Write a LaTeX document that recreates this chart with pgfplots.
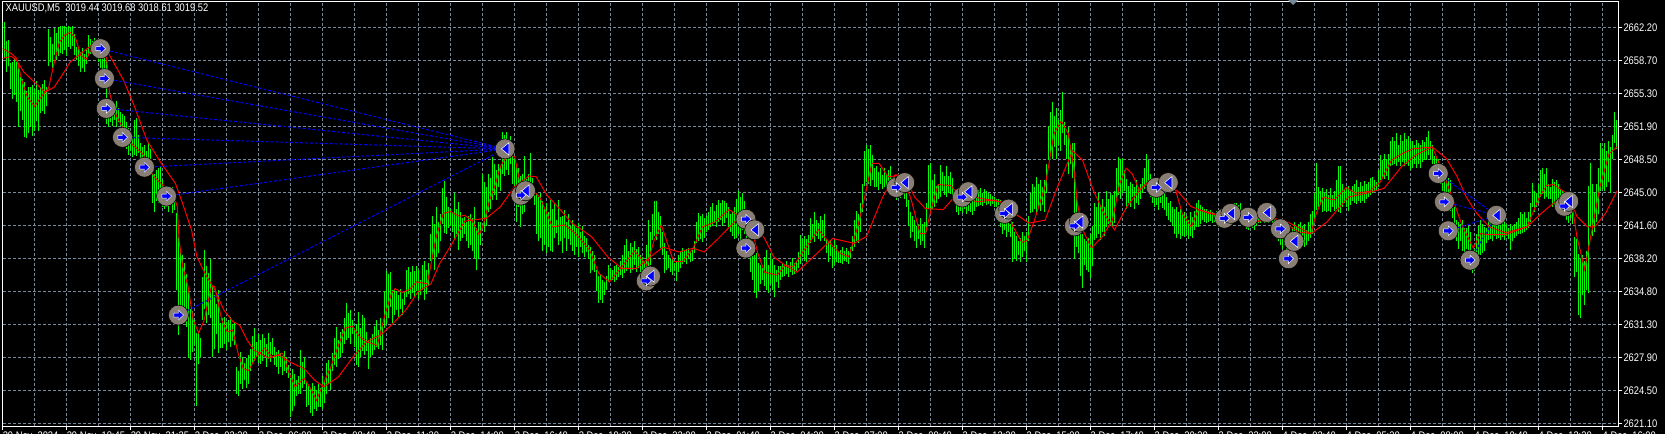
\documentclass[border=0pt]{standalone}
\usepackage{pgfplots}
\usepackage{pgfplotstable}
\usepackage{fontspec}
\setmainfont[FakeStretch=0.85]{Liberation Sans}
\pgfplotsset{compat=1.18}
\definecolor{gridc}{HTML}{778899}
\definecolor{stick}{RGB}{0,255,0}
\definecolor{halo}{RGB}{136,126,115}
\pgfdeclareplotmark{buyarrow}{%
  \pgfpathmoveto{\pgfqpoint{-3.4pt}{-1.5pt}}\pgfpathlineto{\pgfqpoint{0pt}{-1.5pt}}\pgfpathlineto{\pgfqpoint{0pt}{-3.6pt}}%
  \pgfpathlineto{\pgfqpoint{3.8pt}{0pt}}\pgfpathlineto{\pgfqpoint{0pt}{3.6pt}}\pgfpathlineto{\pgfqpoint{0pt}{1.5pt}}%
  \pgfpathlineto{\pgfqpoint{-3.4pt}{1.5pt}}\pgfpathclose\pgfusepathqfillstroke}
\pgfdeclareplotmark{closetri}{%
  \pgfpathmoveto{\pgfqpoint{2.8pt}{-4.6pt}}\pgfpathlineto{\pgfqpoint{-2.8pt}{0pt}}\pgfpathlineto{\pgfqpoint{2.8pt}{4.6pt}}%
  \pgfpathclose\pgfusepathqfillstroke}
\pgfplotstableread{
n l h
0 2659.6 2662.8
1 2659.0 2662.8
2 2657.6 2660.8
3 2658.2 2660.9
4 2655.8 2658.5
5 2654.8 2658.6
6 2655.2 2659.0
7 2654.5 2658.6
8 2651.9 2658.0
9 2653.5 2657.1
10 2652.6 2656.9
11 2650.8 2656.5
12 2650.7 2655.6
13 2651.3 2656.0
14 2651.9 2656.0
15 2650.9 2656.2
16 2651.5 2655.8
17 2652.5 2656.6
18 2651.5 2655.7
19 2653.3 2656.0
20 2653.5 2656.3
21 2653.2 2656.7
22 2654.0 2656.0
23 2658.2 2662.0
24 2658.6 2661.2
25 2658.0 2660.5
26 2659.3 2662.1
27 2658.8 2661.6
28 2659.2 2662.2
29 2659.6 2662.4
30 2659.4 2662.4
31 2659.9 2662.4
32 2659.2 2662.2
33 2660.2 2662.4
34 2660.0 2662.3
35 2660.3 2662.4
36 2659.3 2661.5
37 2658.8 2660.2
38 2658.2 2660.0
39 2657.6 2659.7
40 2658.0 2660.1
41 2657.6 2659.5
42 2658.4 2660.0
43 2659.2 2661.4
44 2659.5 2661.0
45 2659.9 2660.8
46 2659.4 2661.1
47 2659.0 2660.7
48 2658.6 2660.2
49 2658.0 2660.4
50 2657.8 2660.0
51 2657.6 2659.4
52 2652.2 2658.8
53 2651.9 2654.7
54 2652.4 2654.4
55 2652.0 2654.6
56 2652.6 2654.2
57 2651.9 2654.6
58 2652.4 2653.8
59 2652.0 2653.4
60 2651.0 2653.2
61 2650.2 2653.0
62 2649.6 2652.4
63 2649.0 2651.8
64 2649.4 2651.4
65 2648.8 2650.9
66 2649.0 2652.6
67 2648.9 2652.8
68 2649.2 2651.0
69 2647.8 2650.2
70 2647.4 2649.8
71 2648.1 2650.0
72 2647.4 2649.4
73 2647.6 2650.2
74 2647.8 2649.6
75 2644.0 2647.8
76 2643.1 2647.0
77 2644.2 2647.4
78 2644.0 2647.6
79 2644.5 2647.8
80 2643.6 2646.4
81 2643.4 2645.8
82 2643.6 2645.6
83 2643.1 2645.8
84 2643.8 2645.4
85 2642.9 2645.6
86 2643.3 2645.0
87 2635.0 2642.9
88 2630.3 2640.5
89 2632.0 2639.0
90 2631.5 2638.6
91 2633.0 2637.8
92 2631.1 2636.6
93 2627.9 2634.9
94 2627.7 2633.0
95 2628.5 2632.8
96 2629.2 2631.8
97 2622.9 2630.5
98 2627.3 2630.5
99 2628.0 2630.0
100 2631.8 2636.3
101 2633.0 2639.1
102 2631.5 2637.4
103 2632.4 2636.7
104 2632.0 2638.2
105 2628.0 2635.3
106 2628.8 2634.4
107 2630.4 2633.5
108 2628.4 2635.0
109 2628.9 2631.5
110 2628.9 2632.0
111 2629.3 2632.2
112 2628.7 2631.6
113 2629.6 2631.8
114 2629.0 2632.2
115 2629.7 2631.4
116 2629.2 2631.5
117 2624.2 2627.0
118 2624.0 2626.6
119 2625.2 2628.5
120 2624.7 2628.0
121 2625.6 2627.4
122 2624.8 2627.9
123 2625.2 2628.2
124 2626.5 2628.8
125 2627.3 2630.2
126 2627.6 2631.0
127 2628.0 2629.6
128 2627.4 2630.4
129 2627.3 2629.8
130 2627.6 2630.4
131 2628.2 2630.0
132 2627.0 2629.4
133 2627.8 2630.5
134 2627.5 2629.6
135 2628.2 2630.0
136 2627.2 2629.0
137 2627.0 2628.5
138 2626.2 2628.7
139 2627.0 2628.4
140 2626.1 2628.1
141 2626.6 2628.6
142 2626.3 2628.0
143 2625.8 2627.2
144 2621.8 2625.8
145 2622.4 2626.8
146 2622.9 2626.2
147 2624.0 2625.6
148 2624.2 2626.0
149 2624.2 2628.7
150 2624.8 2627.5
151 2625.2 2628.0
152 2622.8 2625.3
153 2623.0 2625.0
154 2622.2 2624.8
155 2621.9 2625.3
156 2622.6 2625.0
157 2622.4 2624.6
158 2622.8 2625.2
159 2622.8 2624.8
160 2622.6 2626.0
161 2623.2 2625.4
162 2624.2 2627.4
163 2625.2 2627.7
164 2624.6 2627.0
165 2626.6 2628.4
166 2627.2 2630.0
167 2627.0 2631.1
168 2627.8 2629.8
169 2628.0 2630.6
170 2628.4 2630.9
171 2629.4 2632.0
172 2629.8 2633.6
173 2630.0 2632.6
174 2629.4 2632.9
175 2630.4 2631.8
176 2629.0 2631.0
177 2627.2 2631.4
178 2627.0 2632.7
179 2628.0 2631.0
180 2628.6 2632.4
181 2628.2 2632.0
182 2628.6 2630.6
183 2626.8 2629.8
184 2628.0 2630.0
185 2628.2 2630.4
186 2628.7 2631.2
187 2629.0 2631.8
188 2628.8 2630.8
189 2629.2 2632.0
190 2628.7 2631.5
191 2631.0 2634.8
192 2631.4 2636.9
193 2632.0 2636.6
194 2633.2 2636.8
195 2631.5 2635.0
196 2632.4 2635.1
197 2632.9 2634.8
198 2632.2 2634.4
199 2633.0 2635.1
200 2632.4 2634.0
201 2633.4 2634.8
202 2634.2 2637.0
203 2634.5 2637.3
204 2634.0 2636.8
205 2634.6 2637.4
206 2634.2 2636.9
207 2634.8 2637.4
208 2634.0 2637.0
209 2634.4 2636.0
210 2635.0 2637.6
211 2633.9 2638.0
212 2634.5 2637.0
213 2635.4 2637.8
214 2638.0 2640.8
215 2638.2 2642.6
216 2637.0 2641.8
217 2638.4 2643.6
218 2638.8 2642.0
219 2640.0 2642.8
220 2641.8 2645.5
221 2640.9 2646.3
222 2640.8 2644.6
223 2641.4 2643.6
224 2641.6 2643.4
225 2641.0 2643.0
226 2640.1 2645.0
227 2640.8 2643.4
228 2639.1 2644.1
229 2640.0 2643.0
230 2640.4 2642.4
231 2640.8 2642.5
232 2640.0 2642.0
233 2639.3 2642.6
234 2639.6 2642.8
235 2639.0 2642.4
236 2638.3 2643.6
237 2637.0 2641.4
238 2638.2 2642.0
239 2639.6 2642.0
240 2642.2 2647.0
241 2641.0 2646.2
242 2641.6 2645.6
243 2643.0 2647.0
244 2643.4 2646.6
245 2644.3 2648.8
246 2644.8 2648.0
247 2644.3 2647.4
248 2645.6 2648.0
249 2645.2 2647.8
250 2647.0 2651.4
251 2646.8 2651.0
252 2647.4 2651.4
253 2646.9 2650.6
254 2648.0 2650.9
255 2646.0 2649.0
256 2644.0 2648.6
257 2642.0 2648.0
258 2643.6 2647.6
259 2641.5 2646.8
260 2642.8 2647.0
261 2643.0 2648.9
262 2644.6 2646.5
263 2644.2 2647.0
264 2644.3 2649.2
265 2644.6 2646.6
266 2643.8 2645.6
267 2640.8 2645.0
268 2640.0 2644.6
269 2640.4 2645.0
270 2639.0 2644.2
271 2639.6 2643.4
272 2638.8 2644.0
273 2639.4 2643.0
274 2639.0 2644.3
275 2638.9 2643.4
276 2640.4 2644.0
277 2640.9 2642.2
278 2639.6 2644.3
279 2640.0 2642.5
280 2638.8 2642.6
281 2640.4 2643.3
282 2639.0 2642.0
283 2640.2 2642.8
284 2639.6 2641.6
285 2639.0 2642.2
286 2638.6 2641.6
287 2639.4 2641.4
288 2638.4 2641.9
289 2639.4 2641.0
290 2638.8 2641.6
291 2638.4 2640.6
292 2638.9 2640.4
293 2638.2 2639.6
294 2636.7 2639.4
295 2637.0 2639.0
296 2636.8 2638.6
297 2634.8 2637.0
298 2633.6 2636.4
299 2633.9 2636.6
300 2633.6 2636.0
301 2634.4 2635.8
302 2635.0 2636.4
303 2635.8 2637.5
304 2635.9 2637.2
305 2636.0 2637.0
306 2635.8 2637.4
307 2636.0 2637.5
308 2636.3 2637.3
309 2636.5 2638.0
310 2636.2 2638.6
311 2636.7 2639.6
312 2636.9 2640.3
313 2637.2 2639.0
314 2636.7 2639.8
315 2637.0 2639.4
316 2637.6 2640.0
317 2636.8 2639.2
318 2637.2 2639.4
319 2636.8 2638.6
320 2636.4 2638.4
321 2635.6 2638.0
322 2635.9 2639.6
323 2636.0 2642.2
324 2637.5 2641.0
325 2640.1 2642.8
326 2640.6 2644.2
327 2640.1 2644.2
328 2640.8 2643.0
329 2639.3 2642.6
330 2638.6 2641.0
331 2636.7 2639.8
332 2637.0 2639.0
333 2637.2 2638.6
334 2636.8 2638.2
335 2636.5 2638.2
336 2636.9 2637.8
337 2635.9 2638.0
338 2636.8 2638.6
339 2637.2 2639.0
340 2637.7 2639.3
341 2637.9 2639.0
342 2637.7 2639.2
343 2638.2 2639.3
344 2637.9 2639.0
345 2638.0 2639.1
346 2638.8 2640.0
347 2639.8 2642.0
348 2640.0 2642.9
349 2640.2 2642.6
350 2639.9 2642.8
351 2640.4 2642.4
352 2641.0 2642.6
353 2641.2 2643.0
354 2641.5 2643.6
355 2641.6 2644.0
356 2641.9 2643.2
357 2641.5 2643.8
358 2642.0 2644.3
359 2642.2 2644.0
360 2641.6 2644.3
361 2641.9 2644.2
362 2642.4 2644.0
363 2641.5 2643.6
364 2641.0 2642.8
365 2640.6 2643.0
366 2640.2 2643.6
367 2640.4 2644.4
368 2640.8 2645.2
369 2640.1 2644.6
370 2641.2 2645.0
371 2640.8 2644.2
372 2640.0 2642.6
373 2638.6 2641.0
374 2636.8 2640.8
375 2636.0 2638.8
376 2634.6 2638.6
377 2634.1 2638.8
378 2634.8 2637.8
379 2635.6 2637.6
380 2636.0 2637.2
381 2635.4 2638.4
382 2635.0 2639.1
383 2634.6 2637.6
384 2635.6 2638.8
385 2635.0 2638.2
386 2634.2 2637.6
387 2635.8 2637.0
388 2635.2 2637.4
389 2636.0 2637.4
390 2636.3 2637.7
391 2636.4 2637.5
392 2636.6 2638.0
393 2636.3 2637.6
394 2636.8 2637.9
395 2636.5 2638.3
396 2636.6 2637.8
397 2636.9 2638.0
398 2637.2 2638.9
399 2637.7 2640.7
400 2638.4 2640.2
401 2638.0 2640.6
402 2637.9 2640.3
403 2638.6 2640.7
404 2639.8 2642.4
405 2640.2 2641.8
406 2639.9 2643.0
407 2640.6 2642.2
408 2640.2 2641.9
409 2640.0 2642.6
410 2640.4 2642.2
411 2640.0 2642.8
412 2638.8 2640.1
413 2637.9 2639.8
414 2638.5 2640.0
415 2637.2 2639.4
416 2637.6 2640.1
417 2637.9 2639.6
418 2637.8 2639.0
419 2637.8 2639.1
420 2637.7 2639.4
421 2638.0 2639.0
422 2637.9 2639.3
423 2637.7 2639.0
424 2638.3 2639.4
425 2639.0 2640.6
426 2639.4 2642.2
427 2640.0 2643.2
428 2639.8 2642.8
429 2641.0 2644.0
430 2643.0 2646.0
431 2645.7 2649.4
432 2646.2 2650.0
433 2646.0 2649.6
434 2645.8 2650.0
435 2646.4 2649.0
436 2645.6 2647.6
437 2645.6 2647.8
438 2645.3 2647.2
439 2646.0 2647.6
440 2645.4 2646.9
441 2645.6 2647.6
442 2645.3 2647.0
443 2645.8 2647.4
444 2645.4 2647.8
445 2645.0 2646.6
446 2644.6 2646.7
447 2644.3 2646.2
448 2644.8 2646.4
449 2644.5 2646.0
450 2644.9 2646.5
451 2644.4 2646.0
452 2643.6 2645.0
453 2641.6 2644.3
454 2640.4 2643.0
455 2641.0 2642.6
456 2640.0 2642.2
457 2639.3 2641.6
458 2640.2 2641.8
459 2639.6 2642.4
460 2640.0 2641.8
461 2639.3 2642.0
462 2641.0 2644.0
463 2643.4 2647.9
464 2642.9 2648.1
465 2643.4 2646.4
466 2643.6 2647.0
467 2644.0 2645.8
468 2644.4 2646.0
469 2644.6 2647.9
470 2645.2 2647.2
471 2644.8 2646.8
472 2644.6 2647.8
473 2645.0 2646.8
474 2644.9 2647.2
475 2644.7 2646.6
476 2644.2 2645.2
477 2643.0 2645.4
478 2642.7 2645.1
479 2643.2 2645.5
480 2642.9 2645.0
481 2643.4 2645.5
482 2642.8 2645.0
483 2643.2 2645.4
484 2643.0 2644.9
485 2642.7 2645.2
486 2643.2 2644.8
487 2643.6 2644.9
488 2643.7 2645.3
489 2643.8 2645.5
490 2643.7 2645.0
491 2644.0 2645.4
492 2643.8 2645.2
493 2643.9 2645.0
494 2643.7 2644.9
495 2643.9 2644.7
496 2643.6 2644.6
497 2643.0 2644.4
498 2642.0 2644.4
499 2641.5 2644.3
500 2640.8 2643.8
501 2641.2 2644.0
502 2640.5 2643.4
503 2641.0 2642.6
504 2640.5 2641.8
505 2637.9 2642.0
506 2638.2 2641.0
507 2638.0 2640.6
508 2638.6 2640.0
509 2637.9 2640.4
510 2638.4 2641.0
511 2639.0 2640.6
512 2637.9 2641.0
513 2640.0 2642.6
514 2642.9 2645.0
515 2643.0 2646.0
516 2643.4 2645.6
517 2642.9 2646.7
518 2643.6 2646.0
519 2643.2 2646.4
520 2643.8 2645.6
521 2643.0 2646.4
522 2645.0 2648.0
523 2648.4 2652.0
524 2649.0 2653.4
525 2648.6 2654.5
526 2649.8 2653.0
527 2648.5 2653.8
528 2650.0 2652.6
529 2649.4 2653.6
530 2651.2 2655.5
531 2650.0 2652.4
532 2648.6 2651.0
533 2647.0 2651.9
534 2648.0 2650.0
535 2646.6 2650.2
536 2638.2 2650.2
537 2639.4 2644.6
538 2638.8 2642.4
539 2636.4 2641.0
540 2635.2 2640.8
541 2637.6 2640.2
542 2637.0 2640.0
543 2636.8 2640.4
544 2636.2 2640.8
545 2637.4 2641.6
546 2640.1 2644.0
547 2640.4 2643.6
548 2640.8 2645.0
549 2640.1 2643.8
550 2641.0 2644.4
551 2640.6 2643.6
552 2641.5 2645.2
553 2641.8 2644.4
554 2642.0 2645.0
555 2641.6 2644.8
556 2641.9 2645.2
557 2644.3 2647.6
558 2644.8 2648.8
559 2644.4 2648.6
560 2645.0 2648.7
561 2645.2 2647.4
562 2643.4 2646.5
563 2644.0 2645.8
564 2643.6 2646.2
565 2644.6 2646.0
566 2643.4 2645.6
567 2644.0 2646.4
568 2643.8 2645.6
569 2644.4 2646.0
570 2645.0 2646.6
571 2645.4 2647.6
572 2645.7 2649.1
573 2645.8 2648.4
574 2644.6 2647.0
575 2644.0 2646.4
576 2643.6 2646.0
577 2643.8 2646.2
578 2643.3 2645.9
579 2644.0 2646.4
580 2643.5 2645.6
581 2643.3 2645.2
582 2642.6 2644.6
583 2642.2 2644.0
584 2642.0 2644.2
585 2641.6 2643.6
586 2640.8 2643.4
587 2640.4 2643.6
588 2640.8 2643.0
589 2640.3 2643.4
590 2640.6 2642.8
591 2640.5 2643.0
592 2640.7 2642.6
593 2640.3 2642.2
594 2640.6 2643.0
595 2640.4 2642.5
596 2641.2 2643.2
597 2641.5 2644.0
598 2641.5 2644.3
599 2641.8 2643.8
600 2642.2 2643.6
601 2642.0 2643.4
602 2641.9 2643.4
603 2642.0 2643.2
604 2642.1 2643.3
605 2641.9 2643.0
606 2642.0 2642.9
607 2642.1 2643.2
608 2641.5 2643.2
609 2641.8 2643.0
610 2641.6 2643.3
611 2642.0 2643.4
612 2641.7 2642.9
613 2641.5 2643.2
614 2642.1 2643.6
615 2642.4 2643.8
616 2642.6 2644.0
617 2642.8 2644.0
618 2642.6 2643.8
619 2642.7 2644.0
620 2642.4 2643.4
621 2642.0 2643.0
622 2641.3 2642.9
623 2641.2 2642.6
624 2641.6 2642.8
625 2641.4 2642.7
626 2641.2 2642.9
627 2641.6 2642.8
628 2641.9 2642.9
629 2641.9 2642.8
630 2642.0 2642.9
631 2641.9 2643.0
632 2642.0 2642.9
633 2641.9 2642.8
634 2642.0 2642.9
635 2641.9 2642.6
636 2641.5 2642.4
637 2640.8 2642.2
638 2640.0 2642.1
639 2639.6 2642.0
640 2639.2 2641.8
641 2639.6 2641.4
642 2638.8 2641.0
643 2639.4 2640.9
644 2638.8 2640.6
645 2639.2 2641.5
646 2639.0 2642.0
647 2639.6 2641.6
648 2640.0 2641.8
649 2639.3 2642.0
650 2639.8 2641.6
651 2639.4 2641.8
652 2639.6 2641.2
653 2640.0 2642.0
654 2640.4 2642.8
655 2640.8 2643.2
656 2642.0 2645.0
657 2643.3 2648.1
658 2643.6 2645.6
659 2643.8 2645.2
660 2643.0 2645.5
661 2643.2 2645.0
662 2643.0 2645.4
663 2643.2 2644.8
664 2643.0 2645.5
665 2643.6 2644.8
666 2643.2 2645.2
667 2643.4 2646.4
668 2643.0 2647.8
669 2642.9 2647.8
670 2643.6 2646.0
671 2644.0 2645.4
672 2643.6 2645.6
673 2643.2 2645.7
674 2643.8 2645.2
675 2644.2 2645.8
676 2644.0 2646.0
677 2643.9 2646.4
678 2644.2 2645.6
679 2644.0 2646.2
680 2644.2 2645.8
681 2644.0 2646.3
682 2644.4 2646.0
683 2644.6 2646.2
684 2644.8 2646.6
685 2645.0 2646.7
686 2645.2 2646.4
687 2645.2 2646.2
688 2645.6 2647.4
689 2646.4 2649.0
690 2646.6 2648.4
691 2646.5 2649.1
692 2646.8 2648.6
693 2646.4 2649.1
694 2647.8 2650.4
695 2647.9 2650.8
696 2648.0 2650.4
697 2647.8 2651.2
698 2648.2 2650.0
699 2647.8 2651.0
700 2648.2 2650.4
701 2647.8 2651.2
702 2648.0 2650.6
703 2647.8 2650.9
704 2647.4 2650.4
705 2647.6 2650.4
706 2648.0 2650.0
707 2647.6 2650.5
708 2648.0 2650.2
709 2647.6 2650.0
710 2648.2 2650.5
711 2648.4 2650.3
712 2648.4 2650.8
713 2649.0 2651.5
714 2648.4 2650.4
715 2648.0 2650.0
716 2647.4 2648.9
717 2646.7 2648.8
718 2646.4 2648.6
719 2646.0 2648.0
720 2645.2 2647.6
721 2643.8 2647.4
722 2643.4 2647.0
723 2643.6 2646.6
724 2643.2 2646.4
725 2642.4 2644.6
726 2641.4 2643.6
727 2640.0 2642.2
728 2639.2 2642.0
729 2640.0 2641.8
730 2639.0 2642.2
731 2638.8 2641.4
732 2639.2 2641.4
733 2638.4 2641.6
734 2638.4 2641.0
735 2636.7 2638.8
736 2637.0 2639.2
737 2638.6 2640.8
738 2638.2 2641.6
739 2638.6 2642.2
740 2638.8 2641.8
741 2639.0 2641.5
742 2639.8 2641.4
743 2640.1 2642.6
744 2640.2 2642.2
745 2640.0 2642.5
746 2640.6 2642.3
747 2640.2 2642.0
748 2640.4 2642.4
749 2640.1 2642.1
750 2640.5 2642.4
751 2640.1 2642.2
752 2640.6 2641.8
753 2640.2 2641.4
754 2639.1 2641.8
755 2640.0 2641.6
756 2640.4 2641.8
757 2640.6 2642.0
758 2640.8 2642.4
759 2640.8 2643.0
760 2640.9 2642.8
761 2641.0 2643.0
762 2641.2 2642.4
763 2641.4 2643.0
764 2642.0 2644.0
765 2643.6 2646.1
766 2643.0 2645.2
767 2643.6 2645.0
768 2644.0 2646.0
769 2644.6 2647.4
770 2644.9 2647.6
771 2644.4 2647.0
772 2644.6 2647.6
773 2644.4 2646.0
774 2644.4 2645.6
775 2643.6 2646.5
776 2643.8 2646.2
777 2643.6 2646.4
778 2644.0 2646.0
779 2643.8 2645.4
780 2643.6 2645.2
781 2642.6 2644.3
782 2642.2 2644.2
783 2641.9 2644.0
784 2642.4 2643.8
785 2641.8 2644.3
786 2636.3 2640.5
787 2636.8 2640.2
788 2632.4 2638.7
789 2632.0 2638.2
790 2634.4 2638.6
791 2633.4 2638.0
792 2635.0 2639.0
793 2634.6 2645.8
794 2641.5 2648.1
795 2640.6 2646.0
796 2641.0 2645.0
797 2642.0 2646.0
798 2642.8 2647.6
799 2645.2 2650.2
800 2645.4 2649.6
801 2645.2 2650.2
802 2645.6 2649.4
803 2646.2 2650.4
804 2645.0 2649.8
805 2648.6 2651.0
806 2650.2 2653.4
807 2649.6 2652.6
}\bars
\pgfplotstableread{
n p
0 2660.0
4.4 2659.5
7 2659
9.7 2656.7
12.4 2655
16 2654
18.6 2654.8
21.3 2655.5
23 2655.9
25.8 2658.5
28.5 2660.7
31.1 2661.4
33.8 2661.7
36.5 2661.1
39.2 2659.3
41.9 2658.9
44.5 2660
49 2660.5
51.7 2659.9
52.6 2657.8
53.5 2655.4
57 2653
64.2 2650.2
70.4 2649
75.8 2646.7
80.3 2645.8
84.7 2645.3
87.4 2643.6
88.3 2640.1
90.1 2637.4
92.8 2635.3
95.4 2631.8
98.1 2630.5
100.8 2631.8
104.4 2635.3
106.1 2635.3
109.7 2631.8
112.4 2630.6
115.1 2630.8
117.8 2628.4
120.4 2626.8
123.1 2626.6
126.7 2628
131.1 2628.9
134.7 2628
140.1 2628.4
142.8 2626.6
146.3 2624.9
150.8 2625.8
154.4 2624.6
157 2623.5
159.7 2624.9
164.2 2627
167.8 2629.1
171.3 2631
174.9 2631.2
178.5 2630.1
182 2629.6
187.4 2629.2
191 2632.2
194.5 2634.6
196.3 2635.1
199.9 2634.7
203.5 2635
207 2635.8
212.4 2635.6
216.9 2640.5
220.4 2642.9
224 2643.1
228.5 2642.6
231.1 2642.7
234.7 2642.2
238.3 2640.7
240.1 2641.5
243.6 2644.3
246.3 2645.8
249 2647.8
252.6 2649
256.1 2648.8
258.8 2646
263.3 2645.7
268.6 2644.6
272.2 2642.9
274.9 2641.5
281.1 2641.7
286.5 2640.8
293.6 2639.1
298.1 2636.7
303.5 2635.8
307 2636.7
310.6 2637.6
316 2639
322.2 2637.5
325.8 2640.1
329.4 2641.7
332 2640.1
335.6 2637.9
340.1 2637.9
345.4 2639.3
349.9 2641.5
356.1 2642
363.3 2643.3
368.6 2642.6
374 2641.9
377.6 2638.8
381.1 2636.8
387.4 2636.5
391 2637.5
395.4 2637.4
400.8 2639.1
407.9 2641.2
412.4 2640.1
418.6 2638.8
423.1 2638.4
427.6 2641.5
431.1 2644.6
434.7 2648.1
438.3 2648.1
442.8 2646.7
449.9 2646.9
454.4 2644.3
458.8 2640.8
461.5 2640.8
464.2 2643.2
467.8 2645.9
474 2645.8
479.4 2644.6
487.4 2644.1
495.4 2644.3
500.8 2644
505.3 2641.5
509.7 2639.9
512.4 2640.1
516 2642.2
521.3 2645.7
525.8 2651.2
529.4 2652.5
532.9 2651.2
535.6 2647.8
537.4 2644
540.1 2641.2
544.5 2639.3
549.9 2640.5
555 2642.2
558.6 2646
561.9 2647.6
564.9 2647
568.5 2645.3
573.8 2646.4
577.4 2646.2
581 2645.2
586.3 2645.5
589.9 2642.9
594.4 2641.5
597.9 2643.3
605.1 2642.9
611.3 2642.6
617.6 2643.4
626.5 2642
634.5 2642.6
642.6 2641.7
647.9 2641
654.2 2640.8
656.9 2642.9
660.4 2644.6
665.8 2644.3
672 2645.6
676.5 2645
683.6 2645.2
689 2646.2
694.4 2648.4
699.7 2649.1
705.1 2649.6
714.9 2649.8
721.1 2646.7
726.5 2643.6
730.1 2641.5
735.4 2639.3
739 2640.8
743.5 2640.7
751.5 2640.7
762.2 2641.5
768.5 2644.6
772 2645.8
775.6 2645.9
781.9 2645
784.5 2644.3
787.2 2640.5
791.1 2637.1
794.4 2640.8
798.8 2645.7
803.3 2649.1
807.2 2649.8
}\fast
\pgfplotstableread{
n p
0 2659
4.4 2659.2
7 2658.8
10.6 2657.6
15.1 2656.7
21.3 2655.5
25.8 2656
30.3 2657.4
33.8 2658.6
39.2 2659.5
45.4 2660.5
50.8 2660.4
54.4 2659
60.6 2656.7
66 2654
72.2 2650.5
79.4 2648.1
86.5 2646
90.1 2643.9
94.5 2641.2
97.2 2638.4
101.7 2636.5
106.1 2635
110.6 2632.9
115.1 2631.7
118.6 2631.3
122.2 2629.8
125.8 2628.7
133 2627.9
138.3 2628.2
143.6 2627.5
150.8 2626.8
156.1 2625.6
160.6 2624.9
167.8 2625.9
174.9 2627.9
182 2629.6
189.2 2630.3
195.4 2631.5
201.7 2632.9
207.9 2634.8
214.2 2635.6
218.6 2637.7
224.9 2639.8
231.1 2642.1
241.9 2642.4
249 2643.6
256.1 2645.7
263.3 2646.8
266.9 2646.7
272.2 2644.8
277.6 2643.6
284.7 2641.9
294.5 2640.5
302.6 2638.4
309.7 2637.2
316.9 2637.2
324 2638.4
330.3 2639.4
338.3 2638.9
345.4 2639.3
350.8 2638.9
357.9 2640.3
366.9 2642.2
374 2642.2
381.1 2640.3
385.6 2638.4
390.1 2637.7
397.2 2636.8
404.4 2638.2
415.1 2640.3
425.8 2639.8
432 2640.5
440.1 2644.6
446.3 2646.9
450.8 2646.9
456.1 2644.6
461.5 2643.4
470.4 2643.3
477.6 2645
488.3 2644.5
499 2644.1
506.1 2642.9
513.3 2641.9
521.3 2642.2
527.6 2645.7
535.1 2649.4
540.1 2648.4
545.4 2645.3
550.8 2642.9
556 2641.2
562.2 2643.6
568.5 2645.3
574.7 2646.5
581 2645.6
587.2 2645.3
594.4 2643.6
603.3 2642.9
611.3 2642.6
618.5 2642.9
626.5 2642
634.5 2642.4
642.6 2642
654.2 2640.8
662.2 2642
672.9 2644.6
681.9 2645
690.8 2645.5
699.7 2647.8
706.9 2649
714.9 2649.8
722 2648.6
727.4 2646.7
731.9 2644.6
737.2 2642.9
743.5 2641.5
751.5 2640.9
762.2 2641.5
769.4 2642.9
777.4 2644.3
783.6 2644.6
787.2 2642.6
792.6 2641.5
796.1 2641.5
801.5 2642.9
807.2 2645.2
}\slow
\pgfplotstableread{
n p
49 2660.0
51 2656.9
51.9 2653.8
60 2650.8
71 2647.7
82 2644.7
88 2632.35
259.2 2644.8
321.9 2635.9
371.7 2642.3
371.7 2639.3
446.9 2645.6
479.9 2644.6
501 2642.9
536 2641.6
576.9 2645.6
611 2642.4
622.9 2642.5
639 2641.3
643 2638.2
717.9 2647.05
721 2644.1
722.9 2641.1
733.8 2638.05
781 2643.65
}\entries
\pgfplotstableread{
n p
251.3 2649.6
261.5 2645.25
324 2636.4
376.1 2641.2
451.1 2646.1
482.9 2645.15
503.1 2643.35
538.3 2642.0
582.9 2646.1
614.2 2642.9
632.2 2643.0
645.8 2640.0
747 2642.7
783.1 2644.15
}\exits
\begin{document}
\begin{tikzpicture}
\path[use as bounding box,clip] (0,0) rectangle (1248.75pt,325.5pt);
\fill[black] (0,0) rectangle (1248.75pt,325.5pt);
\begin{axis}[
  at={(1.875pt,5.625pt)},anchor=south west,
  scale only axis,width=1212pt,height=318.75pt,
  xmin=0,xmax=808,ymin=2620.789,ymax=2664.898,
  axis background/.style={fill=black},
  axis line style={white,line width=0.75pt},
  font=\fontsize{8.25pt}{10pt}\selectfont,
  major tick style={draw=white,line width=0.75pt},
  major tick length=2.6pt,minor tick length=0pt,
  tick align=outside,
  xtick={0,32,...,800},
  minor xtick={16,48,...,784},
  xticklabels={29 Nov\ \ 2024,29 Nov\ \ 18:45,29 Nov\ \ 21:25,2 Dec\ \ 03:20,2 Dec\ \ 06:00,2 Dec\ \ 08:40,2 Dec\ \ 11:20,2 Dec\ \ 14:00,2 Dec\ \ 16:40,2 Dec\ \ 19:20,2 Dec\ \ 22:00,3 Dec\ \ 01:40,3 Dec\ \ 04:20,3 Dec\ \ 07:00,3 Dec\ \ 09:40,3 Dec\ \ 12:20,3 Dec\ \ 15:00,3 Dec\ \ 17:40,3 Dec\ \ 20:20,3 Dec\ \ 23:00,4 Dec\ \ 02:40,4 Dec\ \ 05:20,4 Dec\ \ 08:00,4 Dec\ \ 10:40,4 Dec\ \ 13:20,4 Dec\ \ 16:00},
  xticklabel style={anchor=north west,inner sep=0pt,text=white,xshift=0pt,yshift=-1pt},
  ytick={2621.1,2624.525,2627.95,2631.375,2634.8,2638.225,2641.65,2645.075,2648.5,2651.925,2655.35,2658.775,2662.2},
  yticklabels={2621.10,2624.50,2627.90,2631.30,2634.80,2638.20,2641.60,2645.00,2648.50,2651.90,2655.30,2658.70,2662.20},
  ytick pos=right,yticklabel pos=right,xtick pos=bottom,
  yticklabel style={anchor=west,inner sep=0pt,text=white,xshift=1pt},
  grid=both,
  major grid style={draw=gridc,line width=0.75pt,dash pattern=on 2.25pt off 1.5pt},
  minor grid style={draw=gridc,line width=0.75pt,dash pattern=on 2.25pt off 1.5pt},
]
\addplot[only marks,mark=*,mark size=7.5pt,mark options={draw=none,fill=halo},forget plot] table[x=n,y=p] {\entries};
\addplot[only marks,mark=*,mark size=7.5pt,mark options={draw=none,fill=halo},forget plot] table[x=n,y=p] {\exits};
\addplot[draw=none,mark=none,forget plot,error bars/.cd,y dir=plus,y explicit,error mark=none,error bar style={stick,line width=0.9pt}]
  table[x=n,y=l,y error expr=\thisrow{h}-\thisrow{l}] {\bars};
\addplot[red,line width=0.75pt,forget plot] table[x=n,y=p] {\fast};
\addplot[red,line width=0.75pt,forget plot] table[x=n,y=p] {\slow};
\addplot[blue,line width=0.75pt,dash pattern=on 2.2pt off 1.5pt,unbounded coords=jump,forget plot] coordinates {
(49,2660)(251.3,2649.6)(0,nan)
(51,2656.9)(251.3,2649.6)(0,nan)
(51.9,2653.8)(251.3,2649.6)(0,nan)
(60,2650.8)(251.3,2649.6)(0,nan)
(71,2647.7)(251.3,2649.6)(0,nan)
(82,2644.7)(251.3,2649.6)(0,nan)
(88,2632.35)(251.3,2649.6)(0,nan)
(717.9,2647.05)(747,2642.7)(0,nan)
(721,2644.1)(747,2642.7)(0,nan)
(722.9,2641.1)(747,2642.7)(0,nan)
(733.8,2638.05)(747,2642.7)(0,nan)
(622.9,2642.5)(632.2,2643)(0,nan)
(611,2642.4)(614.2,2642.9)(0,nan)
(639,2641.3)(645.8,2640)(0,nan)
(643,2638.2)(645.8,2640)(0,nan)
(371.7,2639.3)(376.1,2641.2)(0,nan)
(371.7,2642.3)(376.1,2641.2)(0,nan)
};
\addplot[only marks,mark=buyarrow,mark options={fill=blue,draw=white,line width=0.35pt},forget plot] table[x=n,y=p] {\entries};
\addplot[only marks,mark=closetri,mark options={fill=blue,draw=white,line width=0.4pt},forget plot] table[x=n,y=p] {\exits};
\end{axis}
\fill[gridc] (966pt,325.5pt) -- (973.5pt,325.5pt) -- (969.75pt,321.75pt) -- cycle;
\node[anchor=west,inner sep=0pt,text=white,font=\fontsize{8.25pt}{10pt}\selectfont] at (4pt,319.5pt) {XAUUSD,M5\ \ 3019.44 3019.68 3018.61 3019.52};
\end{tikzpicture}
\end{document}
